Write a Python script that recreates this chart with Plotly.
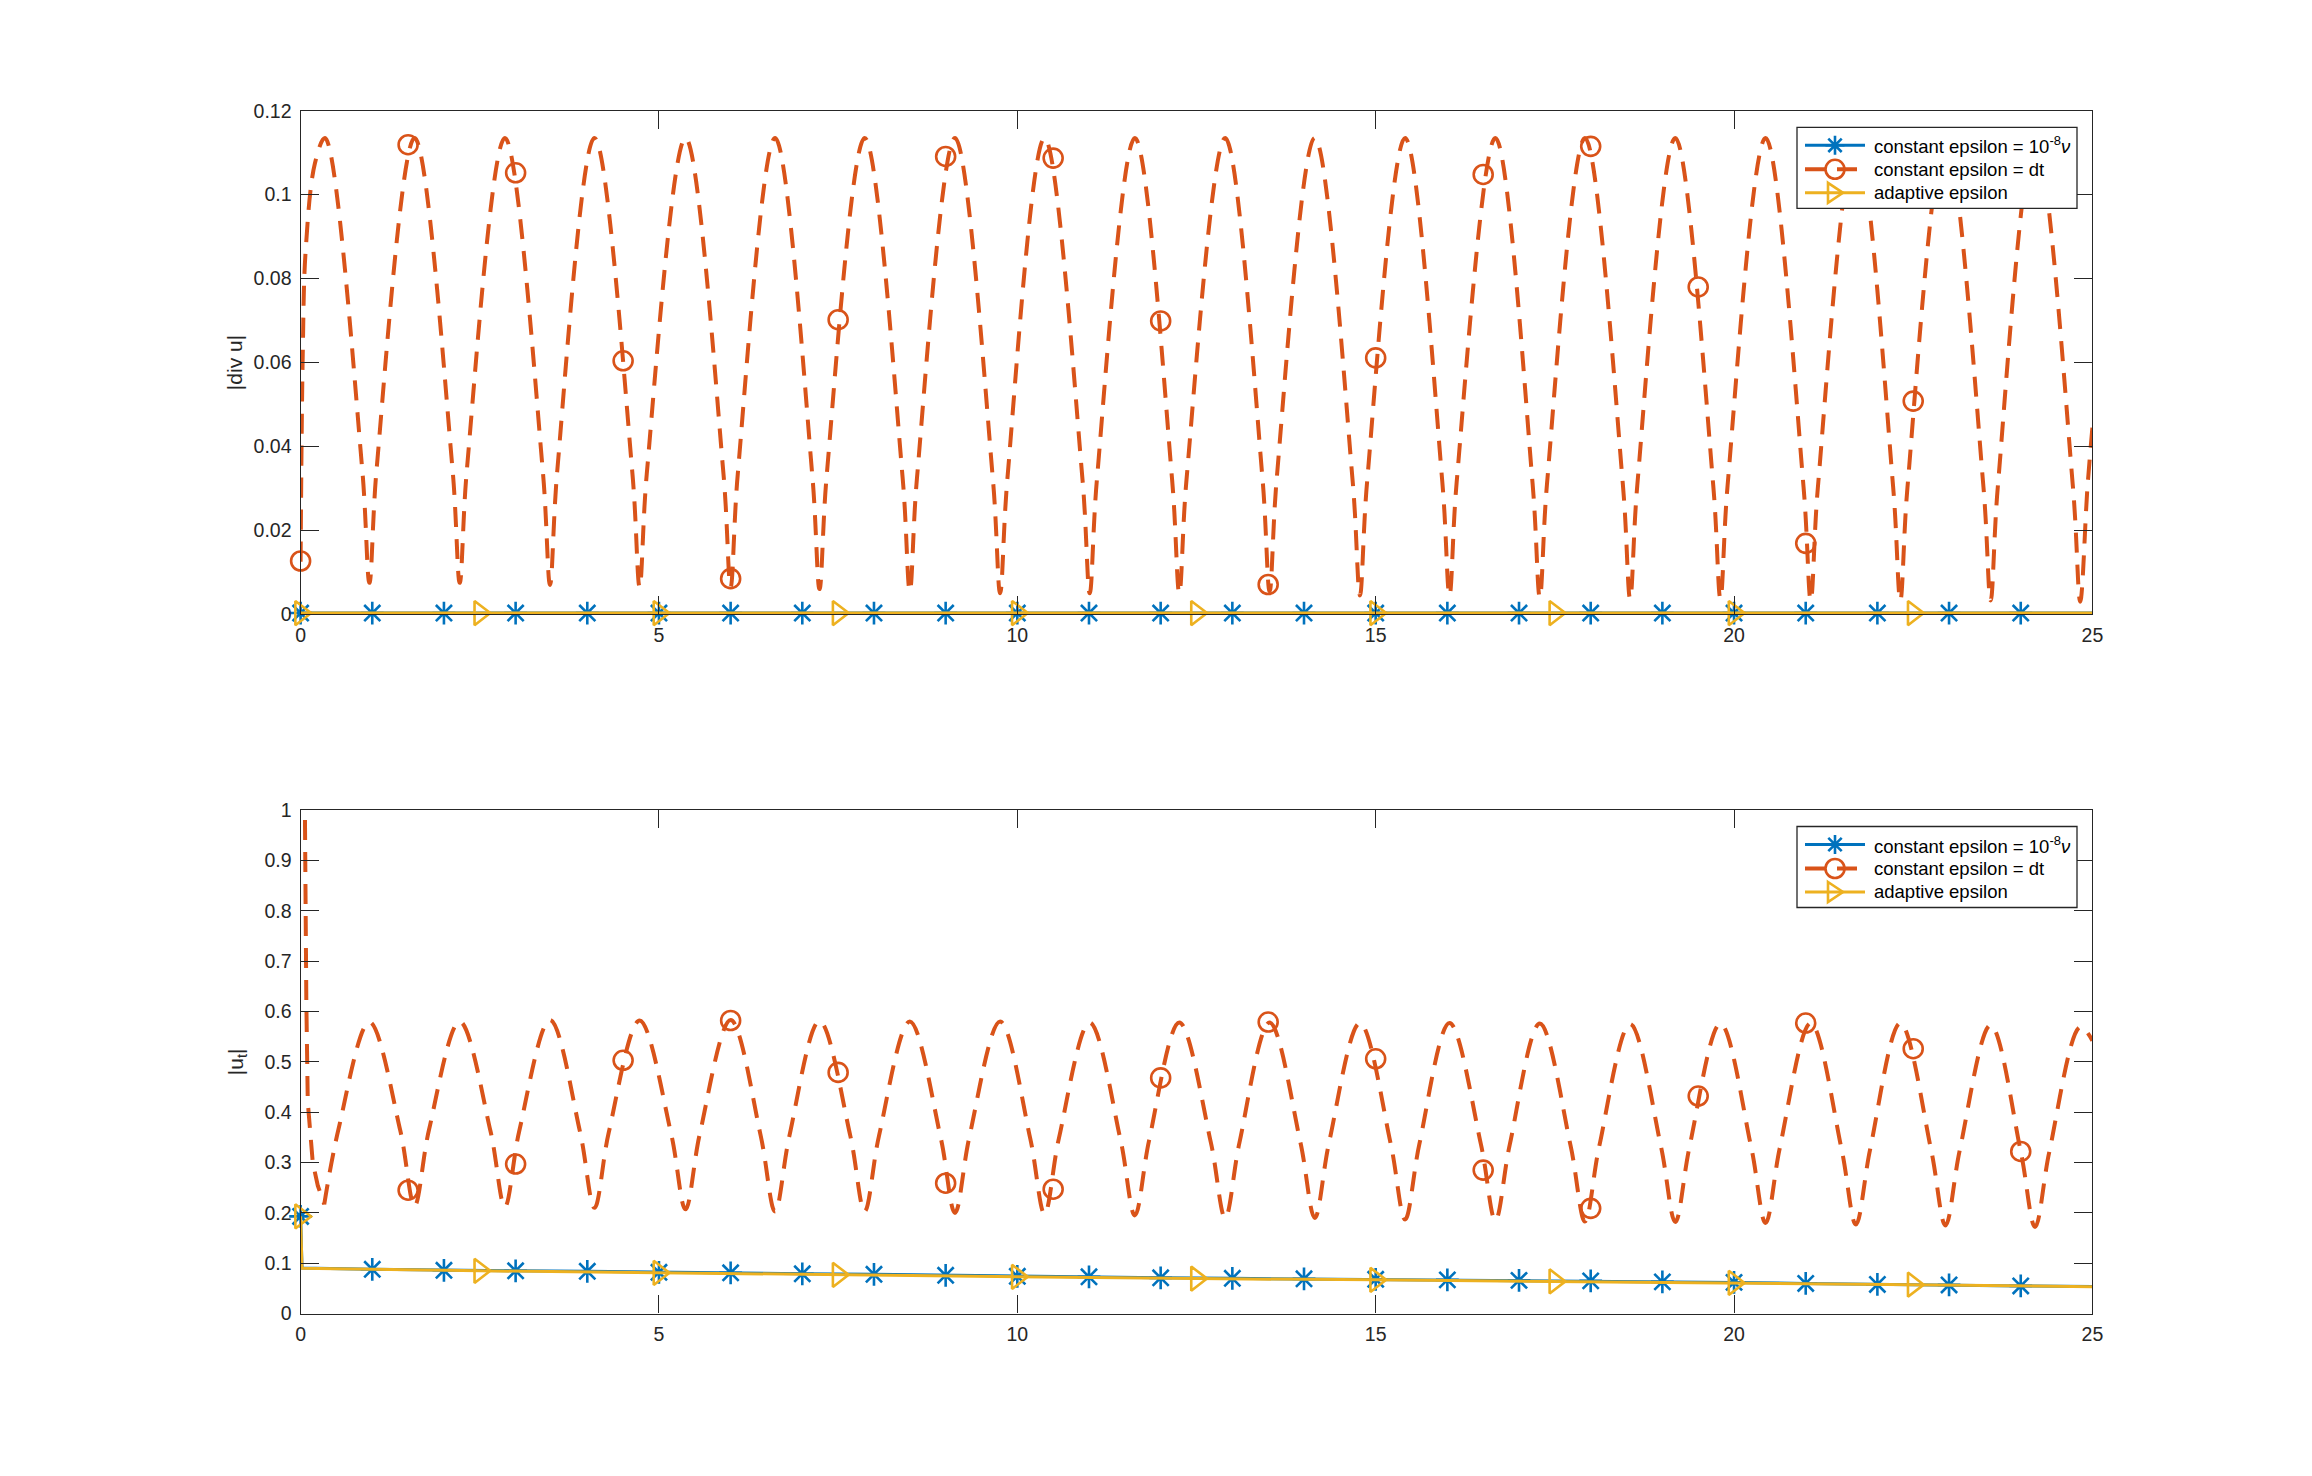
import plotly.graph_objects as go

# colours (matlab defaults)
BLUE = "#0072BD"
RED = "#D95319"
YELLOW = "#EDB120"
AXC = "#262626"

# ---------------- top panel: |div u| ----------------
# constant epsilon = dt  (start, then peak / flank / trough / flank per cycle)
div_dt_t = [0.00, 0.03, 0.07, 0.20,
            0.34, 0.86, 0.96, 1.06,
            1.59, 2.12, 2.22, 2.32,
            2.85, 3.38, 3.48, 3.58,
            4.10, 4.63, 4.73, 4.83,
            5.37, 5.90, 6.00, 6.10,
            6.62, 7.14, 7.24, 7.34,
            7.87, 8.40, 8.50, 8.60,
            9.13, 9.66, 9.76, 9.86,
            10.38, 10.91, 11.01, 11.11,
            11.64, 12.16, 12.26, 12.36,
            12.90, 13.42, 13.52, 13.62,
            14.15, 14.68, 14.78, 14.88,
            15.41, 15.93, 16.03, 16.13,
            16.67, 17.19, 17.29, 17.39,
            17.92, 18.45, 18.55, 18.65,
            19.18, 19.71, 19.81, 19.91,
            20.44, 20.97, 21.07, 21.17,
            21.70, 22.22, 22.32, 22.42,
            22.95, 23.48, 23.58, 23.68,
            24.20, 24.73, 24.83, 24.93,
            25.00]
div_dt_y = [0.0125, 0.062, 0.0865, 0.1075,
            0.1135, 0.0345, 0.0075, 0.0345,
            0.1135, 0.0345, 0.0075, 0.0345,
            0.1135, 0.0340, 0.0070, 0.0340,
            0.1135, 0.0335, 0.0065, 0.0335,
            0.1135, 0.0335, 0.0065, 0.0335,
            0.1135, 0.0330, 0.0060, 0.0330,
            0.1135, 0.0325, 0.0055, 0.0325,
            0.1135, 0.0320, 0.0050, 0.0320,
            0.1135, 0.0320, 0.0050, 0.0320,
            0.1135, 0.0320, 0.0050, 0.0320,
            0.1135, 0.0325, 0.0055, 0.0325,
            0.1135, 0.0315, 0.0045, 0.0315,
            0.1135, 0.0315, 0.0045, 0.0315,
            0.1135, 0.0310, 0.0040, 0.0310,
            0.1135, 0.0307, 0.0037, 0.0307,
            0.1135, 0.0307, 0.0037, 0.0307,
            0.1135, 0.0303, 0.0033, 0.0303,
            0.1135, 0.0303, 0.0033, 0.0303,
            0.1135, 0.0303, 0.0033, 0.0303,
            0.1135, 0.0300, 0.0030, 0.0300,
            0.0445]
div_dt_mark_t = [0, 1.5, 3, 4.5, 6, 7.5, 9, 10.5, 12, 13.5, 15, 16.5, 18, 19.5, 21, 22.5, 24]
div_dt_mark_y = [0.0127, 0.1119, 0.1052, 0.0604, 0.0085, 0.0702, 0.1091, 0.1087, 0.0699,
                 0.0071, 0.0611, 0.1048, 0.1115, 0.0780, 0.0169, 0.0508, 0.102]

# constant epsilon = 1e-8 nu, and adaptive: flat on zero
div_const_t = [0, 25]
div_const_y = [0.0003, 0.0003]
div_const_mark_t = list(range(0, 25))
div_const_mark_y = [0.0003] * 25
div_adapt_t = [0, 25]
div_adapt_y = [0.0003, 0.0003]
div_adapt_mark_t = [0, 2.5, 5, 7.5, 10, 12.5, 15, 17.5, 20, 22.5]
div_adapt_mark_y = [0.0003] * 10

# ---------------- bottom panel: |u_t| ----------------
ut_dt_start_t = [0.00, 0.06, 0.08, 0.10, 0.17, 0.24, 0.33]
ut_dt_start_y = [6.00, 1.00, 0.62, 0.42, 0.30, 0.254, 0.217]
ut_dt_t = [0.33, 0.53, 0.96,
           1.39, 1.59, 1.79, 2.22,
           2.65, 2.85, 3.05, 3.48,
           3.90, 4.10, 4.30, 4.73,
           5.17, 5.37, 5.57, 6.00,
           6.42, 6.62, 6.82, 7.24,
           7.67, 7.87, 8.07, 8.50,
           8.93, 9.13, 9.33, 9.76,
           10.18, 10.38, 10.58, 11.01,
           11.44, 11.64, 11.84, 12.26,
           12.70, 12.90, 13.10, 13.52,
           13.95, 14.15, 14.35, 14.78,
           15.21, 15.41, 15.61, 16.03,
           16.47, 16.67, 16.87, 17.29,
           17.72, 17.92, 18.12, 18.55,
           18.98, 19.18, 19.38, 19.81,
           20.24, 20.44, 20.64, 21.07,
           21.50, 21.70, 21.90, 22.32,
           22.75, 22.95, 23.15, 23.58,
           24.00, 24.20, 24.40, 24.83,
           25.00]
ut_dt_y = [0.217, 0.367, 0.579,
           0.364, 0.214, 0.364, 0.580,
           0.362, 0.212, 0.362, 0.583,
           0.360, 0.210, 0.360, 0.582,
           0.357, 0.207, 0.357, 0.583,
           0.353, 0.203, 0.353, 0.581,
           0.353, 0.203, 0.353, 0.580,
           0.350, 0.200, 0.350, 0.580,
           0.348, 0.198, 0.348, 0.578,
           0.345, 0.195, 0.345, 0.578,
           0.340, 0.190, 0.340, 0.578,
           0.340, 0.190, 0.340, 0.577,
           0.337, 0.187, 0.337, 0.577,
           0.335, 0.185, 0.335, 0.576,
           0.333, 0.183, 0.333, 0.575,
           0.332, 0.182, 0.332, 0.576,
           0.330, 0.180, 0.330, 0.577,
           0.327, 0.177, 0.327, 0.577,
           0.325, 0.175, 0.325, 0.573,
           0.322, 0.172, 0.322, 0.569,
           0.542]
# the circle at t = 0 lies far above the axis and is not drawn
ut_dt_mark_t = [1.5, 3, 4.5, 6, 7.5, 9, 10.5, 12, 13.5, 15, 16.5, 18, 19.5, 21, 22.5, 24]
ut_dt_mark_y = [0.245, 0.297, 0.503, 0.582, 0.479, 0.259, 0.247, 0.468, 0.579, 0.506,
                0.285, 0.209, 0.432, 0.577, 0.526, 0.322]

ut_const_t = [0, 0.02, 1, 2, 3, 4, 5, 6, 7, 8, 9, 10, 11, 12, 13, 14, 15, 16, 17, 18, 19,
              20, 21, 22, 23, 24, 25]
ut_const_y = [0.193, 0.0905, 0.088, 0.086, 0.085, 0.084, 0.082, 0.081, 0.079, 0.078, 0.076,
              0.074, 0.073, 0.071, 0.070, 0.069, 0.068, 0.067, 0.066, 0.065, 0.063, 0.062,
              0.060, 0.058, 0.057, 0.055, 0.054]
ut_const_mark_t = list(range(0, 25))
ut_const_mark_y = [0.193, 0.088, 0.086, 0.085, 0.084, 0.082, 0.081, 0.079, 0.078, 0.076,
                   0.074, 0.073, 0.071, 0.070, 0.069, 0.068, 0.067, 0.066, 0.065, 0.063,
                   0.062, 0.060, 0.058, 0.057, 0.055]
ut_adapt_t = [0, 0.02, 2.5, 5, 7.5, 10, 12.5, 15, 17.5, 20, 22.5, 25]
ut_adapt_y = [0.193, 0.0900, 0.085, 0.081, 0.077, 0.073, 0.0695, 0.067, 0.064, 0.061, 0.0575, 0.0535]
ut_adapt_mark_t = [0, 2.5, 5, 7.5, 10, 12.5, 15, 17.5, 20, 22.5]
ut_adapt_mark_y = [0.193, 0.085, 0.081, 0.077, 0.073, 0.0695, 0.067, 0.064, 0.061, 0.0575]

names = ["constant epsilon = 10<sup>-8</sup><i>ν</i>", "constant epsilon = dt", "adaptive epsilon"]

DASH = "20px,12px"
style = {
    "const": dict(color=BLUE, symbol="asterisk-open", size=19, width=3, dash="solid"),
    "dt": dict(color=RED, symbol="circle-open", size=19, width=4, dash=DASH),
    "adapt": dict(color=YELLOW, symbol="triangle-right-open", size=21, width=3, dash="solid"),
}

fig = go.Figure()


def add_series(key, lt, ly, mt, my, xa, ya, shape="linear"):
    s = style[key]
    fig.add_trace(go.Scatter(x=lt, y=ly, mode="lines", xaxis=xa, yaxis=ya, showlegend=False,
                             line=dict(color=s["color"], width=s["width"], dash=s["dash"],
                                       shape=shape), hoverinfo="skip"))
    fig.add_trace(go.Scatter(x=mt, y=my, mode="markers", xaxis=xa, yaxis=ya, showlegend=False,
                             cliponaxis=False,
                             marker=dict(symbol=s["symbol"], size=s["size"], color=s["color"],
                                         line=dict(width=2.6, color=s["color"])),
                             hoverinfo="skip"))


# top panel
add_series("const", div_const_t, div_const_y, div_const_mark_t, div_const_mark_y, "x", "y")
add_series("dt", div_dt_t, div_dt_y, div_dt_mark_t, div_dt_mark_y, "x", "y", shape="spline")
add_series("adapt", div_adapt_t, div_adapt_y, div_adapt_mark_t, div_adapt_mark_y, "x", "y")

# bottom panel
add_series("const", ut_const_t, ut_const_y, ut_const_mark_t, ut_const_mark_y, "x2", "y2")
fig.add_trace(go.Scatter(x=ut_dt_start_t, y=ut_dt_start_y, mode="lines", xaxis="x2", yaxis="y2",
                         showlegend=False, line=dict(color=RED, width=4, dash=DASH),
                         hoverinfo="skip"))
add_series("dt", ut_dt_t, ut_dt_y, ut_dt_mark_t, ut_dt_mark_y, "x2", "y2", shape="spline")
add_series("adapt", ut_adapt_t, ut_adapt_y, ut_adapt_mark_t, ut_adapt_mark_y, "x2", "y2")

# the page body keeps its 8px margin, so the figure is 16px smaller than the window
W, H = 2296, 1460


def paper(px, py):
    # page pixel -> paper coordinates
    return (px - 8) / W, 1 - (py - 8) / H


# matlab-like legend boxes drawn by hand (opaque box, 60px line samples, big markers)
shapes = []
annotations = []
for top in [127.3, 826.5]:
    x0, y0 = paper(1797, top)
    x1, y1 = paper(2077, top + 81)
    shapes.append(dict(type="rect", xref="paper", yref="paper", x0=x0, y0=y0, x1=x1, y1=y1,
                       fillcolor="white", line=dict(color=AXC, width=1.3), layer="above"))
    for key, name, off in zip(["const", "dt", "adapt"], names, [18, 42, 65.5]):
        s = style[key]
        cy = top + off
        lx0, ly = paper(1805, cy)
        lx1, _ = paper(1865, cy)
        shapes.append(dict(type="line", xref="paper", yref="paper", x0=lx0, y0=ly, x1=lx1, y1=ly,
                           line=dict(color=s["color"], width=s["width"], dash=s["dash"]),
                           layer="above"))
        cx = 1835
        mk = dict(color=s["color"], width=2.6)
        if key == "const":
            r, d = 9.5, 6.7
            segs = [((cx, cy - r), (cx, cy + r)), ((cx - r, cy), (cx + r, cy)),
                    ((cx - d, cy - d), (cx + d, cy + d)), ((cx - d, cy + d), (cx + d, cy - d))]
            path = ""
            for (ax, ay), (bx, by) in segs:
                pa, pb = paper(ax, ay), paper(bx, by)
                path += "M%.6f,%.6f L%.6f,%.6f " % (pa[0], pa[1], pb[0], pb[1])
            shapes.append(dict(type="path", xref="paper", yref="paper", path=path, line=mk,
                               layer="above"))
        elif key == "dt":
            c0 = paper(cx - 9.5, cy - 9.5)
            c1 = paper(cx + 9.5, cy + 9.5)
            shapes.append(dict(type="circle", xref="paper", yref="paper",
                               x0=c0[0], y0=c0[1], x1=c1[0], y1=c1[1], line=mk, layer="above"))
        else:
            pts = [paper(cx - 7, cy - 10), paper(cx + 8, cy), paper(cx - 7, cy + 10)]
            path = "M%.6f,%.6f L%.6f,%.6f L%.6f,%.6f Z" % (pts[0][0], pts[0][1], pts[1][0],
                                                        pts[1][1], pts[2][0], pts[2][1])
            shapes.append(dict(type="path", xref="paper", yref="paper", path=path, line=mk,
                               layer="above"))
        tx, ty = paper(1871.5, cy)
        annotations.append(dict(text=name, x=tx, y=ty, xref="paper", yref="paper",
                                xanchor="left", yanchor="middle", showarrow=False,
                                font=dict(size=18.5, color="black")))

axis_common = dict(
    showline=True, linecolor=AXC, linewidth=1.3, mirror="ticks",
    ticks="inside", ticklen=18, tickwidth=1.3, tickcolor=AXC,
    showgrid=False, zeroline=False, automargin=False,
    tickfont=dict(size=19.5, color=AXC),
)

fig.update_layout(
    width=W, height=H,
    margin=dict(l=0, r=0, t=0, b=0, autoexpand=False),
    showlegend=False,
    paper_bgcolor="white", plot_bgcolor="white",
    font=dict(family="Liberation Sans, Arial, Helvetica, sans-serif", color=AXC),
    xaxis=dict(domain=[0.12744, 0.90784], anchor="y", range=[0, 25],
               tickvals=[0, 5, 10, 15, 20, 25], ticklabelstandoff=3, **axis_common),
    yaxis=dict(domain=[0.58473, 0.92966], anchor="x", range=[0, 0.12],
               tickvals=[0, 0.02, 0.04, 0.06, 0.08, 0.1, 0.12], ticklabelstandoff=4,
               title=dict(text="|div u|", font=dict(size=21, color=AXC), standoff=5),
               **axis_common),
    xaxis2=dict(domain=[0.12744, 0.90784], anchor="y2", range=[0, 25],
                tickvals=[0, 5, 10, 15, 20, 25], ticklabelstandoff=3, **axis_common),
    yaxis2=dict(domain=[0.10575, 0.45068], anchor="x2", range=[0, 1], dtick=0.1,
                ticklabelstandoff=4,
                title=dict(text="|u<sub>t</sub>|", font=dict(size=21, color=AXC), standoff=15),
                **axis_common),
    shapes=shapes,
    annotations=annotations,
)

fig.write_html("out.html", config={"displayModeBar": False})
